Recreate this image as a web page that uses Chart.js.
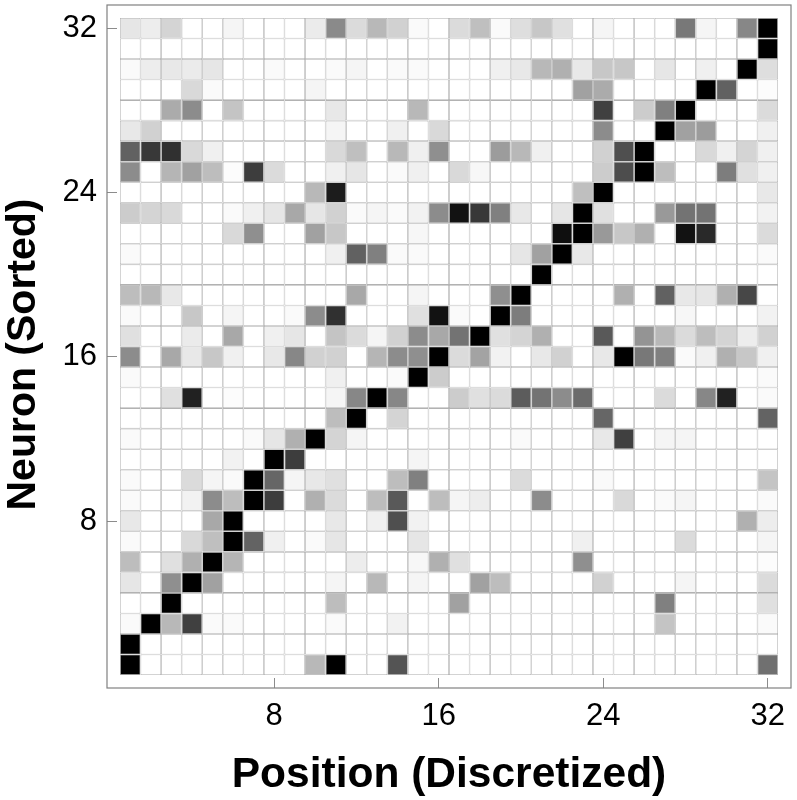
<!DOCTYPE html>
<html>
<head>
<meta charset="utf-8">
<title>Neuron (Sorted) vs Position (Discretized)</title>
<script src="https://cdn.jsdelivr.net/npm/chart.js@4"></script>
<style>
  html, body { margin: 0; padding: 0; background: #fff; }
  canvas { display: block; }
</style>
</head>
<body>
<canvas id="grafico" width="797" height="800"></canvas>
<script>
// ticks shown on both axes
const tickValues = [8, 16, 24, 32];

const positions = [1,2,3,4,5,6,7,8,9,10,11,12,13,14,15,16,17,18,19,20,21,22,23,24,25,26,27,28,29,30,31,32];
const neurons = [32,31,30,29,28,27,26,25,24,23,22,21,20,19,18,17,16,15,14,13,12,11,10,9,8,7,6,5,4,3,2,1];

// darkness of each cell, 0 = white, 100 = black
// first row is neuron 32 (top of the plot), last one neuron 1
const darkness = [
  [10,7,17,0,0,4,0,0,0,8,46,14,28,18,2,0, 14,25,2,13,22,12,0,4,0,0,0,53,4,0,47,100],
  [0,0,0,0,0,0,0,0,0,0,0,0,0,0,0,0, 0,0,0,0,0,0,0,0,0,0,0,0,0,0,0,100],
  [2,7,9,8,10,0,0,2,0,0,2,4,0,2,2,0, 0,0,6,9,28,31,9,22,22,0,10,0,6,0,100,13],
  [0,0,0,15,2,0,0,0,0,4,0,0,0,0,0,0, 0,0,0,0,0,0,37,33,0,0,0,0,100,62,0,1],
  [0,0,33,45,0,23,0,0,0,0,9,0,0,0,28,0, 0,0,0,0,0,0,0,75,0,20,50,100,0,0,0,14],
  [9,18,0,0,0,0,0,0,0,0,4,0,0,6,0,15, 0,0,0,0,0,0,0,45,0,0,100,37,39,0,0,6],
  [62,78,81,15,6,0,0,0,0,0,15,25,0,28,6,44, 0,0,39,28,6,0,0,18,69,100,0,0,15,6,17,6],
  [45,0,29,37,26,1,76,14,0,0,6,10,0,2,6,0, 15,3,0,0,0,0,0,20,70,100,26,0,0,51,12,6],
  [0,0,0,0,0,0,0,0,0,28,89,0,0,0,0,0, 0,0,0,0,0,0,25,100,0,0,0,0,0,0,0,9],
  [20,17,15,0,0,2,6,10,34,10,18,2,4,2,5,45, 93,78,50,9,0,10,100,12,0,0,40,55,55,0,0,5],
  [0,0,0,0,0,15,44,0,0,37,22,0,0,0,3,0, 0,0,0,0,0,94,100,40,22,31,0,93,84,0,0,14],
  [2,0,0,0,0,0,0,0,0,0,6,62,50,2,2,0, 0,0,0,10,37,100,9,0,0,0,0,0,0,0,0,2],
  [0,0,0,0,0,0,0,0,0,0,0,0,0,0,0,0, 0,0,0,0,100,0,0,0,0,0,0,0,0,0,0,0],
  [26,28,9,0,0,0,0,0,0,0,0,34,0,0,4,0, 0,0,44,100,0,0,0,0,31,0,62,9,10,31,72,0],
  [2,0,0,22,0,4,0,0,2,45,81,0,0,0,12,93, 2,0,100,51,0,0,0,0,0,0,0,3,0,0,0,5],
  [12,0,0,8,0,34,0,6,10,0,23,14,4,18,45,34, 55,100,12,17,31,0,0,65,0,42,28,14,26,17,7,18],
  [45,0,34,9,22,6,0,9,47,18,18,0,29,45,44,100, 14,36,5,0,9,18,0,9,100,53,50,2,6,31,22,6],
  [2,0,0,0,0,0,0,0,0,0,6,0,0,2,100,20, 0,0,0,0,0,0,0,0,0,0,0,0,0,0,0,2],
  [0,0,12,87,0,1,0,0,0,0,4,47,100,47,0,0, 20,12,14,64,55,45,58,0,0,0,14,0,47,87,0,2],
  [0,0,0,0,0,0,0,0,0,0,26,100,0,17,0,0, 0,0,0,0,0,0,0,60,0,0,0,0,0,0,0,61],
  [2,0,0,0,0,0,2,10,31,100,17,4,0,0,0,0, 0,0,0,2,0,0,0,9,75,0,4,4,0,0,0,0],
  [0,0,0,0,0,5,0,100,76,0,0,0,0,0,4,0, 0,0,0,0,0,0,0,0,0,0,0,0,0,0,0,0],
  [2,0,0,14,4,2,100,60,4,9,12,0,0,26,50,0, 0,0,0,14,0,0,0,2,0,0,0,0,0,0,0,23],
  [2,0,0,5,45,26,100,76,0,31,14,0,26,65,0,26, 4,7,0,0,45,0,0,0,15,0,2,4,0,0,0,2],
  [9,0,0,0,34,100,0,0,0,0,9,0,6,69,5,0, 0,0,0,0,0,0,0,0,0,0,0,0,0,0,31,7],
  [2,0,0,15,25,100,61,6,0,2,10,0,0,0,10,0, 0,0,0,0,0,0,6,0,0,0,0,14,0,0,0,4],
  [26,0,12,31,100,29,0,0,0,0,0,7,0,0,3,31, 12,0,0,0,0,0,44,0,0,0,0,0,0,0,0,1],
  [10,0,44,100,37,0,0,0,0,0,4,0,28,0,4,0, 0,37,26,0,0,0,0,18,0,0,0,4,0,0,0,14],
  [0,0,100,0,0,0,0,0,0,0,26,0,0,0,0,0, 37,0,0,0,0,0,0,0,0,0,50,0,0,0,0,12],
  [2,100,28,75,2,2,0,0,0,0,2,0,0,5,0,0, 0,0,0,0,0,0,0,0,0,0,23,0,0,0,0,2],
  [100,0,0,0,0,0,0,0,0,0,0,0,0,0,0,0, 0,0,0,0,0,0,0,0,0,0,0,0,0,0,0,0],
  [100,0,0,0,0,0,0,0,0,28,100,0,0,67,0,0, 0,0,0,0,0,0,0,0,0,0,0,0,0,0,0,56]
];

const colorCelda = (valor) => {
  let g = Math.round(255 * (1 - valor / 100));
  return `rgb(${g},${g},${g})`;
};

// one dataset per neuron, every bar is one cell of the grid
let filas = neurons.map((neurona, i) => ({
  label: "Neuron " + neurona,
  data: positions.map(p => ({ x: p, y: [neurona - 0.5, neurona + 0.5] })),
  backgroundColor: darkness[i].map(colorCelda),
  borderColor: "#b2b2b2",
  borderWidth: 0.8,
  borderSkipped: false,
  inflateAmount: 0,
  barPercentage: 1,
  categoryPercentage: 1,
  grouped: false
}));

// frame around the plot
const marco = {
  id: "marco",
  afterDraw: (chart) => {
    let { left, top, width, height } = chart.chartArea;
    let ctx = chart.ctx;
    ctx.save();
    ctx.strokeStyle = "#808080";
    ctx.lineWidth = 1.2;
    ctx.strokeRect(left, top, width, height);
    ctx.restore();
  }
};

// the tick labels must not push the plot area away from the edges
const sinMargenes = (eje) => {
  eje.paddingTop = 0;
  eje.paddingBottom = 0;
  eje.paddingLeft = 0;
  eje.paddingRight = 0;
};

// axis titles are always centred on the axis, this nudges one a few pixels
const moverTitulo = (eje, dx, dy) => {
  if (eje.tituloMovido) return;
  eje.tituloMovido = true;
  let dibujar = eje.drawTitle.bind(eje);
  eje.drawTitle = () => {
    eje.ctx.save();
    eje.ctx.translate(dx, dy);
    dibujar();
    eje.ctx.restore();
  };
};

const ejeComun = (titulo, tamano) => ({
  type: "linear",
  min: -0.13,
  max: 33.13,
  offset: false,
  afterBuildTicks: (eje) => { eje.ticks = tickValues.map(v => ({ value: v })); },
  grid: { offset: false, drawOnChartArea: false, tickLength: -10, color: "#8c8c8c", tickWidth: 1 },
  border: { display: false },
  ticks: {
    autoSkip: false,
    maxRotation: 0,
    color: "#000",
    font: { family: "'Liberation Sans', Arial, sans-serif", size: 31 }
  },
  title: {
    display: true,
    text: titulo,
    color: "#000",
    padding: { top: 0, bottom: 0 },
    font: { family: "'Liberation Sans', Arial, sans-serif", size: tamano, weight: "bold" }
  }
});

let ejeX = ejeComun("Position (Discretized)", 42.5);
ejeX.ticks.padding = 20;
ejeX.afterFit = (eje) => { eje.height = 112; sinMargenes(eje); moverTitulo(eje, 0, 1); };

let ejeY = ejeComun("Neuron (Sorted)", 41);
ejeY.ticks.padding = 20;
ejeY.afterFit = (eje) => { eje.width = 107; sinMargenes(eje); moverTitulo(eje, -1, 8); };

new Chart(document.getElementById("grafico").getContext("2d"), {
  type: "bar",
  data: { datasets: filas },
  options: {
    responsive: false,
    animation: false,
    layout: { padding: { top: 5, right: 6, left: 0, bottom: 0 } },
    plugins: { legend: { display: false }, tooltip: { enabled: false } },
    scales: { x: ejeX, y: ejeY }
  },
  plugins: [marco]
});
</script>
</body>
</html>
